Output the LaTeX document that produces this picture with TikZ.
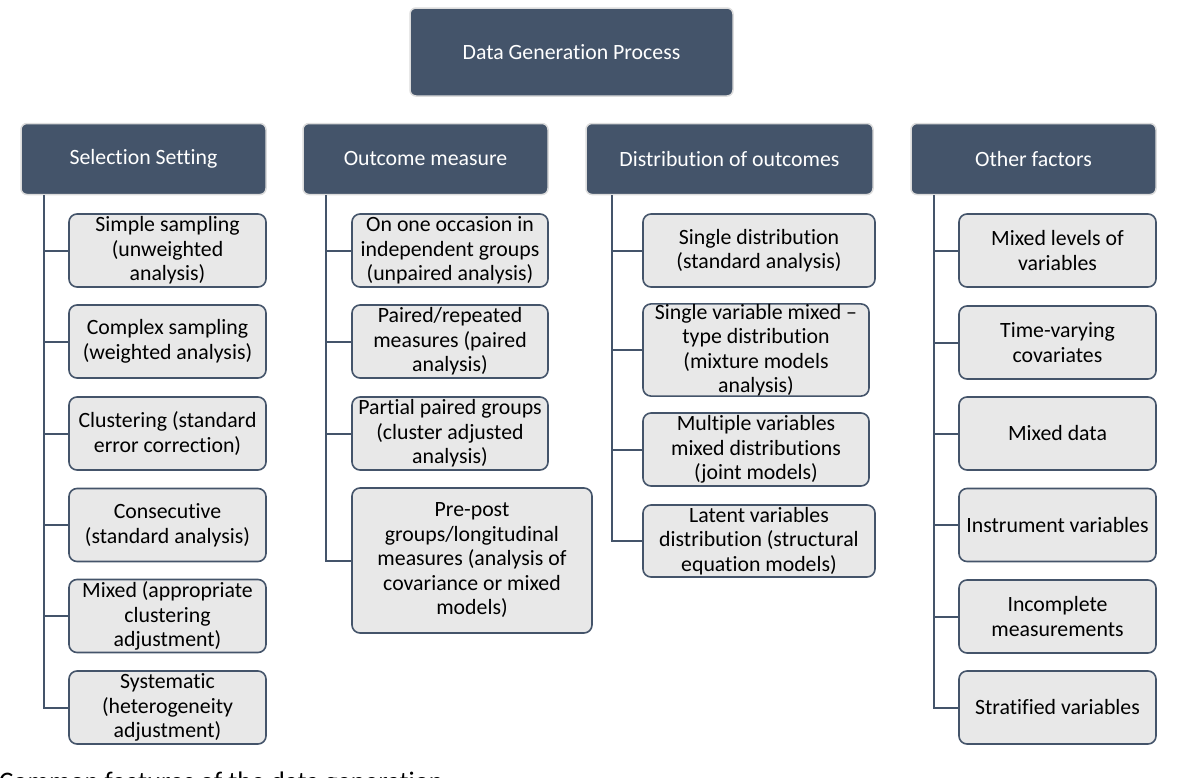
\documentclass[tikz,border=0pt]{standalone}
\usepackage{fontspec}
\setmainfont{Carlito}[Ligatures=NoCommon,RawFeature={-liga}]
\definecolor{darkbox}{HTML}{44546A}
\definecolor{lightbox}{HTML}{E8E8E8}
\definecolor{glow}{HTML}{DCDCDC}
\begin{document}
\begin{tikzpicture}[x=1pt,y=-1pt,
  every node/.style={font=\fontsize{21.8}{24.5}\selectfont, inner sep=0pt, align=center},
  headbox/.style={rectangle, rounded corners=6pt, fill=darkbox, draw=glow, line width=1.5pt, text=white},
  itembox/.style={rectangle, rounded corners=8pt, fill=lightbox, draw=darkbox, line width=1.6pt, text=black},
  conn/.style={draw=darkbox, line width=2pt}]
\useasboundingbox (0,0) rectangle (1203,777);

% top
\node[headbox, minimum width=323pt, minimum height=88pt] (top) at (571.5,52) {Data Generation Process};

% headers
\node[headbox, minimum width=245pt, minimum height=71pt] (h1) at (143.5,159) {Selection Setting};
\node[headbox, minimum width=245pt, minimum height=71pt] (h2) at (425.5,159) {Outcome measure};
\node[headbox, minimum width=287pt, minimum height=71pt] (h3) at (729.5,159) {Distribution of outcomes};
\node[headbox, minimum width=245pt, minimum height=71pt] (h4) at (1033.5,159) {Other factors};

% column 1
\node[itembox, minimum width=197pt, minimum height=73pt] (a1) at (167.5,250.5) {Simple sampling\\(unweighted\\analysis)};
\node[itembox, minimum width=197pt, minimum height=73pt] (a2) at (167.5,341.5) {Complex sampling\\(weighted analysis)};
\node[itembox, minimum width=197pt, minimum height=73pt] (a3) at (167.5,433.5) {Clustering (standard\\error correction)};
\node[itembox, minimum width=197pt, minimum height=73pt] (a4) at (167.5,525) {Consecutive\\(standard analysis)};
\node[itembox, minimum width=197pt, minimum height=73pt] (a5) at (167.5,616) {Mixed (appropriate\\clustering\\adjustment)};
\node[itembox, minimum width=197pt, minimum height=73pt] (a6) at (167.5,707.5) {Systematic\\(heterogeneity\\adjustment)};

% column 2
\node[itembox, minimum width=196pt, minimum height=73pt] (b1) at (450,250.5) {On one occasion in\\independent groups\\(unpaired analysis)};
\node[itembox, minimum width=196pt, minimum height=73pt] (b2) at (450,341.5) {Paired/repeated\\measures (paired\\analysis)};
\node[itembox, minimum width=196pt, minimum height=73pt] (b3) at (450,433.5) {Partial paired groups\\(cluster adjusted\\analysis)};
\node[itembox, minimum width=240pt, minimum height=145pt] (b4) at (472,560.5) {Pre-post\\groups/longitudinal\\measures (analysis of\\covariance or mixed\\models)};

% column 3
\node[itembox, minimum width=232pt, minimum height=73pt] (c1) at (759,250.5) {Single distribution\\(standard analysis)};
\node[itembox, minimum width=226pt, minimum height=90pt] (c2) at (756,350) {Single variable mixed --\\type distribution\\(mixture models\\analysis)};
\node[itembox, minimum width=226pt, minimum height=73pt] (c3) at (756,449.5) {Multiple variables\\mixed distributions\\(joint models)};
\node[itembox, minimum width=232pt, minimum height=72pt] (c4) at (759,541) {Latent variables\\distribution (structural\\equation models)};

% column 4
\node[itembox, minimum width=197pt, minimum height=73pt] (d1) at (1057.5,250.5) {Mixed levels of\\variables};
\node[itembox, minimum width=197pt, minimum height=73pt] (d2) at (1057.5,342.5) {Time-varying\\covariates};
\node[itembox, minimum width=197pt, minimum height=73pt] (d3) at (1057.5,433.5) {Mixed data};
\node[itembox, minimum width=197pt, minimum height=73pt] (d4) at (1057.5,525) {Instrument variables};
\node[itembox, minimum width=197pt, minimum height=73pt] (d5) at (1057.5,616.5) {Incomplete\\measurements};
\node[itembox, minimum width=197pt, minimum height=73pt] (d6) at (1057.5,707.5) {Stratified variables};

% trunk start points
\coordinate (t1) at ([xshift=24pt]h1.south west);
\coordinate (t2) at ([xshift=24pt]h2.south west);
\coordinate (t3) at ([xshift=27pt]h3.south west);
\coordinate (t4) at ([xshift=24pt]h4.south west);

\foreach \n in {a1,a2,a3,a4,a5,a6} {\draw[conn] (t1) |- (\n.west);}
\foreach \n in {b1,b2,b3,b4} {\draw[conn] (t2) |- (\n.west);}
\foreach \n in {c1,c2,c3,c4} {\draw[conn] (t3) |- (\n.west);}
\foreach \n in {d1,d2,d3,d4,d5,d6} {\draw[conn] (t4) |- (\n.west);}

% caption (cut off by the page edge, as in the reference)
\node[anchor=base west, font=\fontsize{26.8}{30}\selectfont] (cap) at (-1,790) {Common features of the data generation};
\end{tikzpicture}
\end{document}
